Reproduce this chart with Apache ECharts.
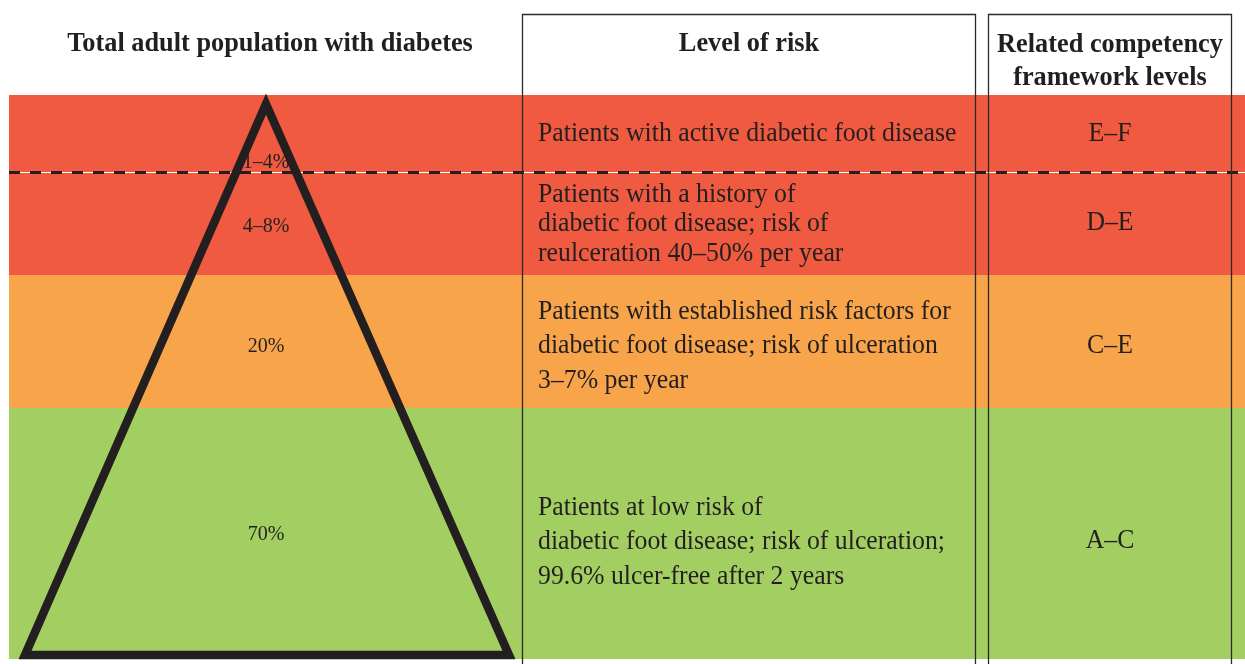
<!DOCTYPE html>
<html><head><meta charset="utf-8">
<script src="https://cdn.jsdelivr.net/npm/echarts@6/dist/echarts.min.js"></script>
<style>html,body{margin:0;padding:0;background:#fff;overflow:hidden}#c{width:1245px;height:664px}</style>
</head><body><div id="c"></div>
<script>
// ---- data ----
const headers = ['Total adult population with diabetes', 'Level of risk', 'Related competency\nframework levels'];
const populationShares = ['1–4%', '4–8%', '20%', '70%'];
const riskLevels = [
  'Patients with active diabetic foot disease',
  'Patients with a history of\ndiabetic foot disease; risk of\nreulceration 40–50% per year',
  'Patients with established risk factors for\ndiabetic foot disease; risk of ulceration\n3–7% per year',
  'Patients at low risk of\ndiabetic foot disease; risk of ulceration;\n99.6% ulcer-free after 2 years'
];
const competencyLevels = ['E–F', 'D–E', 'C–E', 'A–C'];

// ---- layout & style (pixel units of hidden axes) ----
const W = 1245, H = 664;
const bandLeft = 9;
const bandTops = [95, 172, 275, 408];
const bandBottoms = [172, 275, 408, 659];
const bandColors = ['#EF5A40', '#EF5A40', '#F7A44B', '#A3CE62'];
const pctY = [163, 227, 347, 535];
const riskY = [134, 224, 346, 542];
const riskLH = [30, 29.5, 34.5, 34.5];
const levelY = [134, 223, 346, 541];
const ink = '#231F20';
const serif = '"Liberation Serif", "DejaVu Serif", serif';
const triangle = [[266, 104], [25, 655], [509, 655]];
const dividerY = 172.5;
const boxes = [[522.5, 14.5, 975.5, 670], [988.5, 14.5, 1231.5, 670]];
const headerPos = [[270, 44], [749, 44], [1110, 61]];

const chart = echarts.init(document.getElementById('c'), null, {renderer: 'canvas'});
const idx = populationShares.map((_, i) => [i, i]);

function pt(api, x, y) { return api.coord([x, y]); }

const option = {
  animation: false,
  backgroundColor: '#ffffff',
  grid: {left: 0, right: 0, top: 0, bottom: 0},
  xAxis: {type: 'value', min: 0, max: W, show: false},
  yAxis: {type: 'value', min: 0, max: H, inverse: true, show: false},
  series: [
    { // bands
      type: 'custom', clip: false, data: idx, z: 1,
      renderItem: (params, api) => {
        const i = api.value(0);
        const a = pt(api, bandLeft, bandTops[i]), b = pt(api, W, bandBottoms[i]);
        return {type: 'rect', shape: {x: a[0], y: a[1], width: b[0] - a[0], height: b[1] - a[1]},
          style: {fill: bandColors[i]}};
      }
    },
    { // dashed divider between tier 1 and 2
      type: 'custom', clip: false, data: [[0, 0]], z: 2,
      renderItem: (params, api) => {
        const a = pt(api, bandLeft, dividerY), b = pt(api, W, dividerY);
        return {type: 'group', children: [
          {type: 'line', shape: {x1: a[0], y1: a[1], x2: b[0], y2: b[1]}, style: {stroke: '#ffffff', lineWidth: 1}},
          {type: 'line', shape: {x1: a[0], y1: a[1], x2: b[0], y2: b[1]}, style: {stroke: ink, lineWidth: 3, lineDash: [11, 10]}}
        ]};
      }
    },
    { // column boxes
      type: 'custom', clip: false, data: boxes.map((b, i) => [i, i]), z: 3,
      renderItem: (params, api) => {
        const bx = boxes[api.value(0)];
        const a = pt(api, bx[0], bx[1]), b = pt(api, bx[2], bx[3]);
        return {type: 'rect', shape: {x: a[0], y: a[1], width: b[0] - a[0], height: b[1] - a[1]},
          style: {fill: null, stroke: '#2a2a2a', lineWidth: 1.3}};
      }
    },
    { // pyramid outline
      type: 'custom', clip: false, data: [[0, 0]], z: 4,
      renderItem: (params, api) => ({
        type: 'polygon', shape: {points: triangle.map(p => pt(api, p[0], p[1]))},
        style: {fill: null, stroke: ink, lineWidth: 8.5, lineJoin: 'miter', miterLimit: 10}
      })
    },
    { // texts per tier
      type: 'custom', clip: false, data: idx, z: 5,
      renderItem: (params, api) => {
        const i = api.value(0);
        const p = pt(api, 266, pctY[i]), r = pt(api, 538, riskY[i]), l = pt(api, 1110, levelY[i]);
        return {type: 'group', children: [
          {type: 'text', x: p[0], y: p[1], style: {text: populationShares[i], x: 0, y: 0, align: 'center', verticalAlign: 'middle',
            fontFamily: serif, fontSize: 20, fill: ink}},
          {type: 'text', x: r[0], y: r[1], scaleX: 0.92, style: {text: riskLevels[i], x: 0, y: 0, align: 'left', verticalAlign: 'middle',
            fontFamily: serif, fontSize: 28, lineHeight: riskLH[i], fill: ink}},
          {type: 'text', x: l[0], y: l[1], scaleX: 0.92, style: {text: competencyLevels[i], x: 0, y: 0, align: 'center', verticalAlign: 'middle',
            fontFamily: serif, fontSize: 28, fill: ink}}
        ]};
      }
    },
    { // headers
      type: 'custom', clip: false, data: headers.map((h, i) => [i, i]), z: 5,
      renderItem: (params, api) => {
        const i = api.value(0);
        const pos = headerPos[i];
        const p = pt(api, pos[0], pos[1]);
        return {type: 'text', x: p[0], y: p[1], scaleX: 0.94, style: {text: headers[i], x: 0, y: 0, align: 'center', verticalAlign: 'middle',
          fontFamily: serif, fontSize: 28, fontWeight: 'bold', lineHeight: 33, fill: ink}};
      }
    }
  ]
};
chart.setOption(option);
</script>
</body></html>
